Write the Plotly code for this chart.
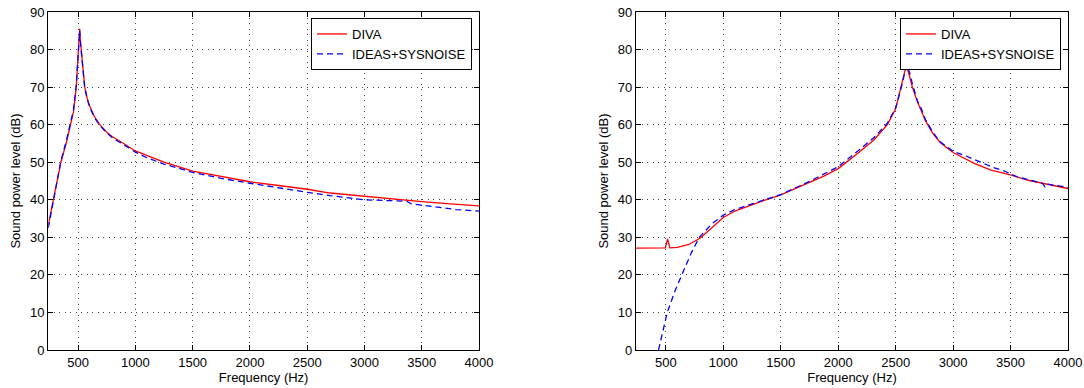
import plotly.graph_objects as go

# ---- Left panel data ----
left_diva_f = [240, 300, 350, 400, 435, 460, 484, 495, 502, 508, 514, 520, 528, 540, 558, 580, 600, 640, 690, 750,
               800, 880, 1000, 1160, 1250, 1500, 1750, 2000, 2250, 2500, 2700, 3000, 3250, 3500, 3750, 4000]
left_diva_v = [33.3, 42.5, 50.0, 55.5, 60.0, 63.5, 70.0, 75.0, 80.0, 83.0, 85.6, 82.5, 79.5, 75.0, 70.0, 67.0, 65.0,
               62.3, 60.0, 58.0, 56.8, 55.3, 53.0, 51.1, 50.0, 47.6, 46.1, 44.8, 43.8, 42.8, 41.8, 40.9, 40.2, 39.5,
               38.9, 38.4]

left_ideas_f = [240, 300, 350, 400, 435, 460, 484, 495, 502, 508, 514, 520, 528, 540, 558, 580, 600, 640, 690, 750,
                800, 880, 1000, 1100, 1250, 1500, 1750, 2000, 2250, 2500, 2700, 3000, 3200, 3370, 3410, 3500, 3650,
                3800, 4000]
left_ideas_v = [32.5, 42.8, 50.3, 56.0, 60.3, 64.0, 70.5, 75.5, 80.5, 83.5, 85.0, 82.0, 79.0, 74.5, 69.8, 66.8, 64.8,
                62.0, 59.8, 57.8, 56.5, 55.0, 52.7, 51.2, 49.5, 47.3, 45.7, 44.4, 43.1, 42.0, 41.1, 40.0, 39.8, 39.6,
                38.9, 38.6, 37.9, 37.4, 37.0]

# ---- Right panel data ----
right_diva_f = [240, 495, 515, 535, 600, 700, 800, 900, 1000, 1100, 1200, 1350, 1500, 1750, 1875, 2000, 2168, 2312,
                2428, 2500, 2543, 2572, 2592, 2616, 2645, 2690, 2717, 2760, 2820, 2890, 3000, 3184, 3330, 3500, 3652,
                3857, 4000]
right_diva_v = [27.1, 27.2, 29.6, 27.2, 27.3, 28.1, 29.8, 32.5, 35.3, 37.0, 38.2, 39.8, 41.3, 44.5, 46.3, 48.3, 52.3,
                56.0, 60.0, 64.2, 69.6, 73.5, 75.8, 73.5, 70.0, 66.0, 64.2, 61.0, 57.8, 55.2, 52.6, 49.7, 47.9, 46.6,
                45.2, 43.9, 43.0]

right_ideas_f = [436, 480, 512, 580, 637, 720, 791, 850, 900, 1000, 1100, 1200, 1350, 1500, 1750, 1875, 2000, 2168,
                 2312, 2428, 2500, 2550, 2595, 2620, 2650, 2690, 2720, 2760, 2820, 2880, 3000, 3100, 3200, 3350,
                 3450, 3550, 3700, 3780, 3800, 3820, 4000]
right_ideas_v = [0.0, 5.5, 10.0, 15.8, 20.0, 25.8, 30.0, 32.0, 33.6, 35.9, 37.4, 38.4, 39.9, 41.4, 44.9, 46.8, 48.8,
                 52.9, 56.6, 60.4, 64.5, 70.0, 75.9, 74.0, 70.3, 66.3, 64.5, 61.3, 58.2, 55.6, 52.9, 51.8, 50.5,
                 48.6, 47.6, 46.2, 45.0, 44.3, 43.4, 44.2, 43.3]

x_ticks = [500, 1000, 1500, 2000, 2500, 3000, 3500, 4000]
y_ticks = [0, 10, 20, 30, 40, 50, 60, 70, 80, 90]
x_title = "Frequency (Hz)"
y_title = "Sound power level (dB)"
name_a = "DIVA"
name_b = "IDEAS+SYSNOISE"

W, H = 1084, 388
FONT = "Liberation Sans, Arial, Helvetica, sans-serif"
FS = 13

fig = go.Figure()

panels = [
    ("x", "y", "legend", left_diva_f, left_diva_v, left_ideas_f, left_ideas_v),
    ("x2", "y2", "legend2", right_diva_f, right_diva_v, right_ideas_f, right_ideas_v),
]
for xa, ya, lg, df, dv, idf, idv in panels:
    fig.add_trace(go.Scatter(x=df, y=dv, mode="lines", name=name_a, xaxis=xa, yaxis=ya, legend=lg,
                             line=dict(color="#ff0000", width=1.3), cliponaxis=True))
    fig.add_trace(go.Scatter(x=idf, y=idv, mode="lines", name=name_b, xaxis=xa, yaxis=ya, legend=lg,
                             line=dict(color="#0000ff", width=1.3, dash="6px,4px"), cliponaxis=True))

def xax(domain, anchor):
    return dict(domain=domain, anchor=anchor, range=[240, 4000], tickvals=x_ticks,
                ticks="inside", ticklen=5, tickcolor="black", showline=True, linecolor="black", linewidth=1.2,
                mirror="ticks", showgrid=True, gridcolor="#444", gridwidth=1, griddash="1px,4.5px",
                zeroline=False, automargin=False, tickfont=dict(size=FS, color="black"),
                title=dict(text=x_title, standoff=2, font=dict(size=FS, color="black")))

def yax(domain, anchor):
    return dict(domain=domain, anchor=anchor, range=[0, 90], tickvals=y_ticks,
                ticks="inside", ticklen=5, tickcolor="black", showline=True, linecolor="black", linewidth=1.2,
                mirror="ticks", showgrid=True, gridcolor="#444", gridwidth=1, griddash="1px,4.5px",
                zeroline=False, automargin=False, tickfont=dict(size=FS, color="black"),
                title=dict(text=y_title, standoff=6, font=dict(size=FS, color="black")))

ydom = [1 - 350 / H, 1 - 12 / H]
legend_style = dict(bgcolor="white", bordercolor="black", borderwidth=1, font=dict(size=FS, color="black"),
                    xanchor="right", yanchor="top", xref="paper", yref="paper", tracegroupgap=0)

fig.update_layout(
    width=W, height=H, autosize=False,
    margin=dict(l=0, r=0, t=0, b=0),
    paper_bgcolor="white", plot_bgcolor="white",
    font=dict(family=FONT, size=FS, color="black"),
    xaxis=xax([48.3 / W, 479 / W], "y"),
    yaxis=yax(ydom, "x"),
    xaxis2=xax([636 / W, 1068 / W], "y2"),
    yaxis2=yax(ydom, "x2"),
    legend=dict(x=(479 - 7) / W, y=1 - 18 / H, **legend_style),
    legend2=dict(x=(1068 - 7) / W, y=1 - 18 / H, **legend_style),
)

fig.write_html(
    "out.html",
    config={"displayModeBar": False, "staticPlot": True},
    post_script="document.body.style.margin='0';document.body.style.padding='0';"
                "document.documentElement.style.overflow='hidden';",
)
